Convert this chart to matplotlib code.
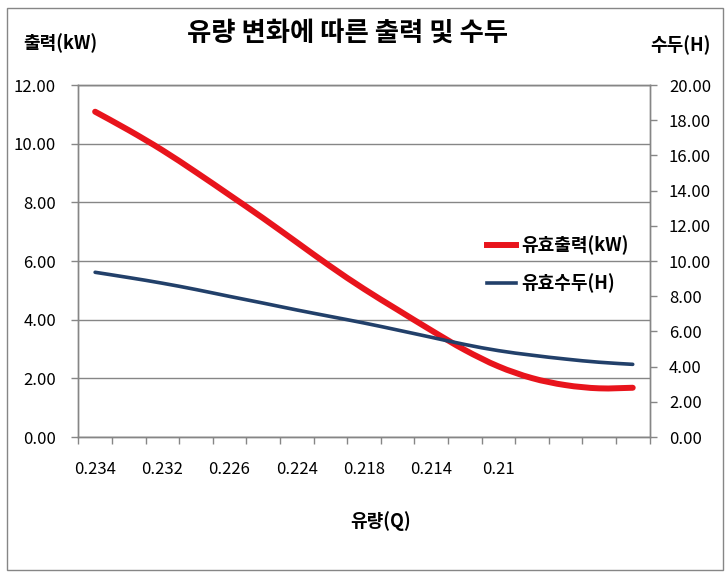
import numpy as np
import matplotlib
matplotlib.use("Agg")
import matplotlib.pyplot as plt
from matplotlib.lines import Line2D
from matplotlib.patches import Rectangle, PathPatch
from matplotlib.path import Path

plt.rcParams["font.family"] = ["Noto Sans CJK KR", "DejaVu Sans"]

# category labels (Excel shows every 2nd one, last two slots blank)
x_labels = ["0.234", "0.232", "0.226", "0.224", "0.218", "0.214", "0.21"]

# 유효출력 (kW), left axis
power = [11.09, 10.46, 9.78, 9.03, 8.25, 7.46, 6.64, 5.82, 5.05, 4.34,
         3.64, 2.97, 2.41, 2.01, 1.77, 1.66, 1.68]

# 유효수두 (H), right axis
head = [9.36, 9.06, 8.74, 8.38, 7.99, 7.61, 7.22, 6.85, 6.48, 6.08,
        5.67, 5.26, 4.91, 4.65, 4.43, 4.25, 4.13]

red = "#e8141c"
navy = "#22406a"
gray = "#868686"


def smooth_line(ax, xs, ys, **kw):
    # Excel-like smoothed line: cubic Bezier through every data point
    p = np.column_stack([xs, ys]).astype(float)
    verts = [p[0]]
    codes = [Path.MOVETO]
    for i in range(len(p) - 1):
        p0 = p[max(i - 1, 0)]
        p3 = p[min(i + 2, len(p) - 1)]
        c1 = p[i] + (p[i + 1] - p0) / 6
        c2 = p[i + 1] - (p3 - p[i]) / 6
        verts += [c1, c2, p[i + 1]]
        codes += [Path.CURVE4] * 3
    ax.add_patch(PathPatch(Path(verts, codes), fill=False, capstyle="round",
                           joinstyle="round", **kw))


n = len(power)
idx = np.arange(n)

fig = plt.figure(figsize=(7.28, 5.82), dpi=100)
fig.patches.append(Rectangle((7 / 728, 1 - 570 / 582), 716 / 728, 562 / 582,
                             transform=fig.transFigure, fill=False,
                             edgecolor=gray, linewidth=1))

ax = fig.add_axes([0.1076, 0.2491, 0.7846, 0.6048])
ax2 = ax.twinx()

smooth_line(ax, idx, power, edgecolor=red, linewidth=4.3)
smooth_line(ax2, idx, head, edgecolor=navy, linewidth=2.6)

ax.set_xlim(-0.5, n - 0.5)
ax.set_ylim(0, 12)
ax2.set_ylim(0, 20)

ax.set_yticks(np.arange(0, 12.1, 2))
ax.set_yticklabels([f"{v:.2f}" for v in np.arange(0, 12.1, 2)])
ax2.set_yticks(np.arange(0, 20.1, 2))
ax2.set_yticklabels([f"{v:.2f}" for v in np.arange(0, 20.1, 2)])

ax.yaxis.grid(True, color=gray, linewidth=1)
ax.set_axisbelow(True)

# boundary ticks on the category axis, labels on every 2nd category
ax.set_xticks(np.arange(-0.5, n, 1))
ax.set_xticklabels([])
ax.set_xticks(np.arange(len(x_labels)) * 2, minor=True)
ax.set_xticklabels(x_labels, minor=True)
ax.tick_params(axis="x", which="major", length=5, color=gray, width=1)
ax.tick_params(axis="x", which="minor", length=0, pad=17, labelsize=12)
ax.tick_params(axis="y", length=5, color=gray, width=1, pad=11, labelsize=12)
ax2.tick_params(axis="y", length=5, color=gray, width=1, pad=9, labelsize=12)

for a in (ax, ax2):
    for s in a.spines.values():
        s.set_color(gray)
        s.set_linewidth(1)

fig.text(0.477, 0.943, "유량 변화에 따른 출력 및 수두", ha="center", va="center",
         fontsize=19, fontweight="bold")
fig.text(60 / 728, 1 - 43 / 582, "출력(kW)", ha="center", va="center",
         fontsize=13, fontweight="bold")
fig.text(680 / 728, 1 - 45 / 582, "수두(H)", ha="center", va="center",
         fontsize=13, fontweight="bold")
fig.text(381 / 728, 1 - 521 / 582, "유량(Q)", ha="center", va="center",
         fontsize=13, fontweight="bold")

handles = [Line2D([], [], color=red, linewidth=4.3),
           Line2D([], [], color=navy, linewidth=2.6)]
fig.legend(handles, ["유효출력(kW)", "유효수두(H)"], loc="upper left",
           bbox_to_anchor=(480 / 728, 1 - 228 / 582), frameon=False,
           prop={"size": 13, "weight": "bold"}, handlelength=1.6,
           handletextpad=0.3, labelspacing=1.0, borderaxespad=0)

fig.savefig("out.png", dpi=100)
